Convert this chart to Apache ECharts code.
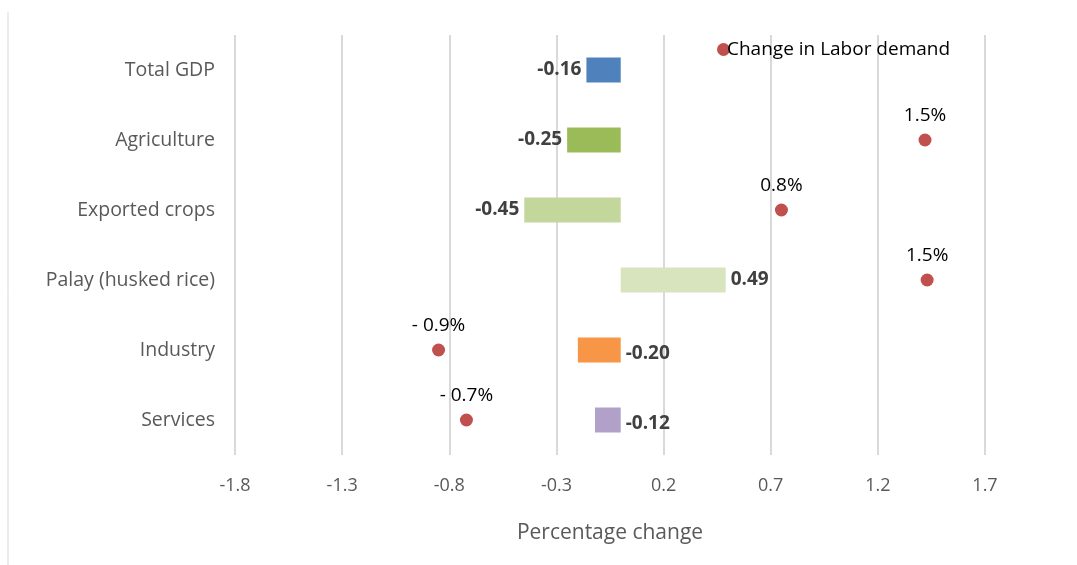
<!DOCTYPE html>
<html><head><meta charset="utf-8">
<script src="https://cdn.jsdelivr.net/npm/echarts@6/dist/echarts.min.js"></script>
<style>html,body{margin:0;background:#fff}#app{width:1077px;height:565px}</style>
</head><body><div id="app"></div>
<script>
const sectors = ['Total GDP', 'Agriculture', 'Exported crops', 'Palay (husked rice)', 'Industry', 'Services'];
const priceChange = [-0.16, -0.25, -0.45, 0.49, -0.20, -0.12];
const barColors = ['#4f81bd', '#9bbb59', '#c3d69b', '#d7e4bd', '#f79646', '#b1a0c7'];
const laborDemand = [null, 1.42, 0.75, 1.43, -0.85, -0.72];
const laborLabels = ['', '1.5%', '0.8%', '1.5%', '- 0.9%', '- 0.7%'];

const myChart = echarts.init(document.getElementById('app'));
myChart.setOption({
  animation: false,
  textStyle: { fontFamily: 'Open Sans, Noto Sans, sans-serif' },
  grid: { left: 235, right: 92, top: 35, bottom: 110 },
  graphic: [{ type: 'line', shape: { x1: 8, y1: 12, x2: 8, y2: 565 }, style: { stroke: '#d9d9d9', lineWidth: 1 } }],
  legend: {
    left: 712, top: 35, itemWidth: 13, itemHeight: 13, itemGap: 0,
    textStyle: { fontSize: 19, color: '#000', padding: [0, 0, 0, -8] },
    data: [{ name: 'Change in Labor demand', icon: 'circle' }]
  },
  xAxis: {
    type: 'value', min: -1.8, max: 1.7, interval: 0.5,
    name: 'Percentage change', nameLocation: 'middle', nameGap: 68,
    nameTextStyle: { fontSize: 21, color: '#595959' },
    axisLabel: { fontSize: 18, color: '#595959', margin: 22, formatter: v => v.toFixed(1) },
    axisLine: { show: false }, axisTick: { show: false },
    splitLine: { lineStyle: { color: '#d9d9d9', width: 2 } }
  },
  yAxis: {
    type: 'category', data: sectors, inverse: true,
    axisLine: { show: false }, axisTick: { show: false },
    axisLabel: { fontSize: 19.5, color: '#595959', margin: 20 }
  },
  series: [
    {
      type: 'bar', barWidth: 25,
      data: priceChange.map((v, i) => ({
        value: v, itemStyle: { color: barColors[i] },
        label: { position: (v < 0 && i < 4) ? 'left' : 'right', offset: (v < 0 && i >= 4) ? [0, 4] : [0, 0] }
      })),
      label: {
        show: true, fontSize: 19, fontWeight: 'bold', color: '#404040',
        formatter: p => p.value.toFixed(2)
      }
    },
    {
      name: 'Change in Labor demand', type: 'scatter', symbolSize: 13,
      itemStyle: { color: '#c0504d', opacity: 1 },
      data: laborDemand,
      label: {
        show: true, position: 'top', distance: 8, fontSize: 19, color: '#000',
        formatter: p => laborLabels[p.dataIndex]
      }
    }
  ]
});
</script>
</body></html>
